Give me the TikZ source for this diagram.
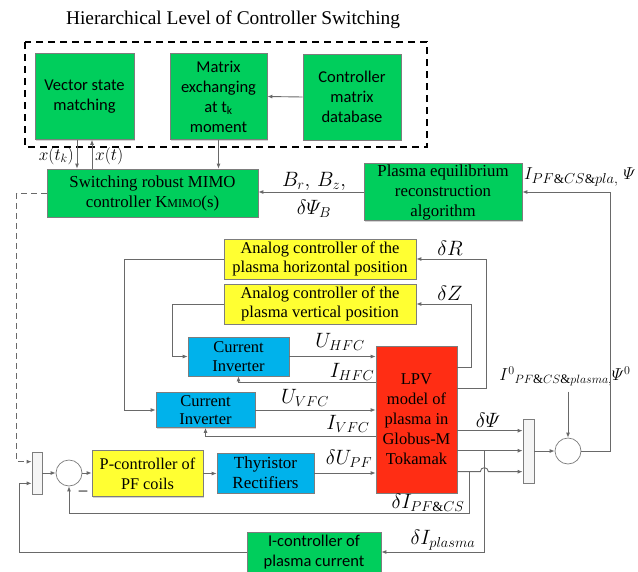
\documentclass[tikz,border=0pt]{standalone}
\usepackage{amsmath}
\usepackage{fontspec}
\setmainfont{Liberation Serif}
\newfontfamily\calibri{Carlito}
\usetikzlibrary{arrows.meta,shadows,calc}

\definecolor{boxgreen}{RGB}{0,206,92}
\definecolor{boxyellow}{RGB}{255,255,50}
\definecolor{boxblue}{RGB}{0,178,235}
\definecolor{boxred}{RGB}{255,45,20}
\definecolor{linegray}{RGB}{105,105,105}
\definecolor{edgegray}{RGB}{125,125,125}

\begin{document}
\begin{tikzpicture}[x=1pt,y=-1pt,
    line/.style={draw=linegray, line width=0.9pt},
    arr/.style={line, -{Latex[length=5pt,width=4pt]}},
    blk/.style={draw=edgegray, line width=0.7pt, align=center, inner sep=1pt,
      drop shadow={shadow xshift=1.2pt, shadow yshift=-1.2pt, opacity=0.35}},
    sansblk/.style={blk, fill=boxgreen, font=\calibri\fontsize{16.5}{20}\selectfont},
    greenblk/.style={blk, fill=boxgreen, font=\fontsize{16.8}{20}\selectfont},
    yellowblk/.style={blk, fill=boxyellow, font=\fontsize{16.5}{18.5}\selectfont},
    blueblk/.style={blk, fill=boxblue, font=\fontsize{16.5}{18.5}\selectfont},
    mux/.style={draw=edgegray, fill=gray!8, line width=0.7pt, minimum width=10pt, inner sep=0pt},
    sum/.style={circle, draw=edgegray, fill=white, line width=0.7pt, minimum size=26pt, inner sep=0pt},
    lbl/.style={font=\fontsize{20}{22}\selectfont, inner sep=0pt}]
  \useasboundingbox (0,0) rectangle (638,571);

  % Hierarchical level
  \node[font=\fontsize{19.4}{22}\selectfont] (title) at (233,20) {Hierarchical Level of Controller Switching};
  \draw[line width=1.1pt, dash pattern=on 7pt off 5pt] (25,42) rectangle (427,147);
  \node[sansblk, minimum width=99pt, minimum height=86pt] (vsm) at (84.5,96.5) {Vector state\\matching};
  \node[sansblk, minimum width=97pt, minimum height=86pt] (mex) at (218.5,96.5) {Matrix\\exchanging\\at t\textsubscript{k}\\moment};
  \node[sansblk, minimum width=98pt, minimum height=86pt] (cmd) at (352,97) {Controller\\matrix\\database};
  \draw[arr] (cmd.west) -- (mex.east);

  % Switching controller and reconstruction
  \node[greenblk, minimum width=211pt, minimum height=48pt] (smc) at (152.5,193) {Switching robust MIMO\\controller K{\fontsize{12}{12}\selectfont MIMO}(s)};
  \node[greenblk, minimum width=158pt, minimum height=54pt] (per) at (443,192) {Plasma equilibrium\\reconstruction\\algorithm};
  \draw[arr] (mex.south) -- (mex.south |- smc.north);
  \draw[arr] ([xshift=-7.5pt]vsm.south) -- ([xshift=-7.5pt]vsm.south |- smc.north);
  \draw[arr] ([xshift=7.5pt]vsm.south |- smc.north) -- ([xshift=7.5pt]vsm.south);
  \node[lbl, font=\fontsize{18}{20}\selectfont, anchor=east] (lxtk) at (74,156) {$x(t_k)$};
  \node[lbl, font=\fontsize{18}{20}\selectfont, anchor=west] (lxt) at (95,156) {$x(t)$};
  \draw[arr] (per.west) -- (per.west -| smc.east);
  \node[lbl] (lB) at (314,181) {$B_r,\,B_z,$};
  \node[lbl] (lPsiB) at (314,209) {$\delta\varPsi_B$};

  % Analog controllers and inverters
  \node[yellowblk, minimum width=192pt, minimum height=40pt] (ach) at (320,259) {Analog controller of the\\plasma horizontal position};
  \node[yellowblk, minimum width=192pt, minimum height=40pt] (acv) at (320,304) {Analog controller of the\\plasma vertical position};
  \node[blueblk, minimum width=101pt, minimum height=39pt] (ci1) at (238.5,356.5) {Current\\Inverter};
  \node[blueblk, minimum width=99pt, minimum height=35pt] (ci2) at (205.5,410) {Current\\Inverter};
  \node[blk, fill=boxred, font=\fontsize{16.5}{20}\selectfont, minimum width=81pt, minimum height=147pt] (lpv) at (416.5,419.5) {LPV\\model of\\plasma in\\Globus-M\\Tokamak};

  \draw[arr] (ach.west) -- ++(-99,0) |- (ci2.west);
  \draw[arr] (acv.west) -- ++(-51,0) |- (ci1.west);
  \draw[arr] ($(lpv.north east)+(0,22)$) -- ++(14,0) |- (acv.east);
  \draw[arr] ($(lpv.north east)+(0,43)$) -- ++(29,0) |- (ach.east);
  \node[lbl] (lR) at (450,248) {$\delta R$};
  \node[lbl] (lZ) at (450,293) {$\delta Z$};

  \draw[arr] (ci1.east) -- (ci1.east -| lpv.west);
  \draw[arr] ($(lpv.north west)+(0,37)$) -| (ci1.south);
  \draw[arr] (ci2.east) -- (ci2.east -| lpv.west);
  \draw[arr] ($(lpv.north west)+(0,91)$) -| (ci2.south);
  \node[lbl] (lUH) at (340,342) {$U_{HFC}$};
  \node[lbl] (lIH) at (352,372) {$I_{HFC}$};
  \node[lbl] (lUV) at (305,398) {$U_{VFC}$};
  \node[lbl] (lIV) at (348,424) {$I_{VFC}$};

  % PF coils loop
  \node[mux, minimum height=42pt] (muxL) at (37,473) {};
  \node[sum] (sumL) at (69,473) {};
  \node[yellowblk, font=\fontsize{16.3}{20}\selectfont, minimum width=111pt, minimum height=46pt] (pc) at (147.5,473.5) {P-controller of\\PF coils};
  \node[blueblk, font=\fontsize{17}{20}\selectfont, minimum width=97pt, minimum height=40pt] (thy) at (265.5,473) {Thyristor\\Rectifiers};
  \draw[arr] (muxL.east) -- (sumL.west);
  \draw[arr] (sumL.east) -- (sumL.east -| pc.west);
  \draw[arr] (pc.east) -- (pc.east -| thy.west);
  \draw[arr] (thy.east) -- (thy.east -| lpv.west);
  \node[lbl] (lUPF) at (349,459) {$\delta U_{PF}$};
  \node[lbl, font=\fontsize{17}{20}\selectfont] (lminus) at (83,493) {--};

  % Outputs of the model
  \node[mux, minimum width=11pt, minimum height=64pt] (muxR) at (528.5,451) {};
  \node[sum] (sumR) at (568,451) {};
  \coordinate (oPsi) at ($(lpv.north east)+(0,85)$);
  \coordinate (oPl) at ($(lpv.north east)+(0,105)$);
  \coordinate (oPF) at ($(lpv.north east)+(0,126)$);
  \coordinate (bPF) at ($(oPF)+(12,0)$);
  \coordinate (bPl) at ($(oPl)+(27,0)$);
  \draw[arr] (oPsi) -- (oPsi -| muxR.west);
  \draw[arr] (oPl) -- (oPl -| muxR.west);
  \draw[arr] (oPF) -- ++(23,0) arc[start angle=180, end angle=360, radius=4] -- (oPF -| muxR.west);
  \node[lbl] (lPsi) at (488,420) {$\delta\varPsi$};
  \draw[arr] (muxR.east) -- (sumR.west);
  \node[lbl, font=\fontsize{18.5}{20}\selectfont] (lI0) at (565,376) {$I^{0}{}_{PF\&CS\&plasma,}\varPsi^{0}$};
  \draw[arr] (sumR.north) ++(0,-46) -- (sumR.north);
  \draw[arr] (sumR.east) -- ++(29,0) |- (per.east);
  \node[lbl, font=\fontsize{19}{20}\selectfont, anchor=west] (lIpf) at (524,177) {$I_{PF\&CS\&pla,}\ \varPsi$};

  % Feedback paths
  \node[sansblk, minimum width=134pt, minimum height=40pt] (ic) at (314,552) {I-controller of\\plasma current};
  \draw[arr] (bPF) -- ++(0,42) -| (sumL.south);
  \draw[arr] (bPl) |- (ic.east);
  \draw[arr] (ic.west) -- ++(-227,0) |- ($(muxL.south west)+(0,-11)$);
  \draw[arr, dash pattern=on 6pt off 4pt] (smc.west) -- ++(-30,0) |- ($(muxL.north west)+(0,10)$);
  \node[lbl] (lIPF) at (428,503) {$\delta I_{PF\&CS}$};
  \node[lbl] (lIpl) at (443,540) {$\delta I_{plasma}$};
\end{tikzpicture}
\end{document}
